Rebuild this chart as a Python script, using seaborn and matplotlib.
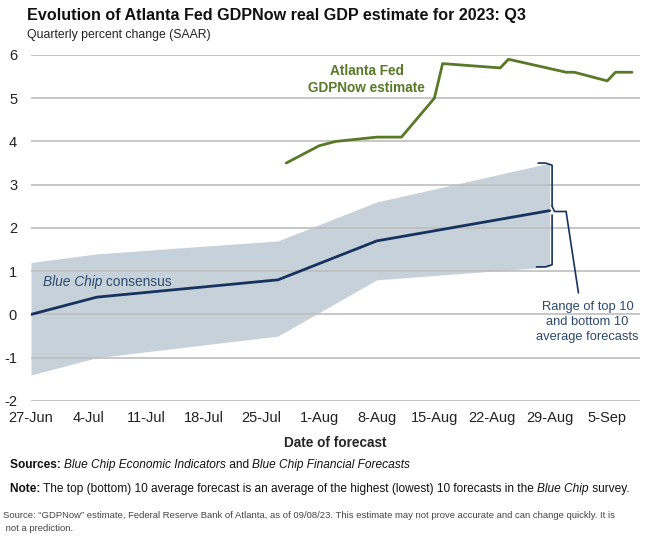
import numpy as np
import pandas as pd
import matplotlib
matplotlib.use("Agg")
import matplotlib.pyplot as plt
import matplotlib.dates as mdates
import seaborn as sns

# ================================
# Data
# ================================
gdpnow_dates = ["2023-07-28", "2023-08-01", "2023-08-03", "2023-08-08", "2023-08-11",
                "2023-08-15", "2023-08-16", "2023-08-23", "2023-08-24", "2023-08-31",
                "2023-09-01", "2023-09-05", "2023-09-06", "2023-09-08"]
gdpnow_values = [3.5, 3.9, 4.0, 4.1, 4.1, 5.0, 5.8, 5.7, 5.9, 5.6, 5.6, 5.4, 5.6, 5.6]

bluechip_dates = ["2023-06-27", "2023-07-05", "2023-07-27", "2023-08-08", "2023-08-29"]
bluechip_consensus = [0.0, 0.4, 0.8, 1.7, 2.4]
bluechip_top10 = [1.2, 1.4, 1.7, 2.6, 3.5]
bluechip_bottom10 = [-1.4, -1.0, -0.5, 0.8, 1.1]

xtick_dates = ["2023-06-27", "2023-07-04", "2023-07-11", "2023-07-18", "2023-07-25",
               "2023-08-01", "2023-08-08", "2023-08-15", "2023-08-22", "2023-08-29",
               "2023-09-05"]
yticks = [-2, -1, 0, 1, 2, 3, 4, 5, 6]

gdp = pd.DataFrame({"date": pd.to_datetime(gdpnow_dates), "value": gdpnow_values})
bc = pd.DataFrame({"date": pd.to_datetime(bluechip_dates),
                   "consensus": bluechip_consensus,
                   "top": bluechip_top10,
                   "bottom": bluechip_bottom10})

# ================================
# Style
# ================================
sns.set_style("white")
plt.rcParams["font.family"] = ["Liberation Sans", "DejaVu Sans"]
plt.rcParams["axes.unicode_minus"] = False

GREEN = "#587a26"
NAVY = "#17325f"
LABEL_BLUE = "#2c4a70"
BAND = "#c6d1da"
GRID = "#bdbdbd"

fig = plt.figure(figsize=(6.46, 5.44), dpi=100)
ax = fig.add_axes([0.048, 0.263, 0.943, 0.636])


def chain(x, y, parts, transform=None, **common):
    """write several text pieces one after another on one line"""
    renderer = fig.canvas.get_renderer()
    tr = transform if transform is not None else fig.transFigure
    px, py = tr.transform((x, y))
    for txt, kw in parts:
        t = fig.text(px / fig.bbox.width, py / fig.bbox.height, txt, **common, **kw)
        px = t.get_window_extent(renderer).x1


# band of top/bottom 10 averages
ax.fill_between(bc["date"], bc["bottom"], bc["top"], color=BAND, lw=0, zorder=1)

# grid lines on top of the band
for yv in yticks:
    ax.axhline(yv, color=GRID, lw=1.2, zorder=1.5)

sns.lineplot(data=bc, x="date", y="consensus", color=NAVY, lw=2, ax=ax, zorder=3)
sns.lineplot(data=gdp, x="date", y="value", color=GREEN, lw=2, ax=ax, zorder=3)

# axes
ax.set_xlim(pd.Timestamp("2023-06-27"), pd.Timestamp("2023-09-09"))
ax.set_ylim(-2, 6)
ax.set_yticks(yticks)
ax.set_xticks(pd.to_datetime(xtick_dates))
ax.xaxis.set_major_formatter(mdates.DateFormatter("%-d-%b"))
for s in ax.spines.values():
    s.set_visible(False)
ax.tick_params(axis="y", length=0, pad=10, labelsize=10.5, colors="#222222")
ax.tick_params(axis="x", length=5, width=1, color=GRID, direction="in",
               pad=7, labelsize=10.5, colors="#222222")
ax.set_xlabel("Date of forecast", fontsize=9.8, fontweight="bold", labelpad=8)
ax.set_ylabel("")
ax.grid(False)

# annotations
ax.text(pd.Timestamp("2023-08-06") + pd.Timedelta(hours=19), 5.43,
        "Atlanta Fed\nGDPNow estimate", color=GREEN,
        fontsize=9.8, fontweight="bold", ha="center", va="center", linespacing=1.3)
fig.canvas.draw()
chain(mdates.date2num(pd.Timestamp("2023-06-28")) + 0.45, 0.74,
      [("Blue Chip", dict(style="italic")), (" consensus", {})],
      transform=ax.transData, color=LABEL_BLUE, fontsize=9.9, va="center")

# brace for range
end = bc["date"].iloc[-1]
d = lambda days: end + pd.Timedelta(days=days)
top, bot, mid = bc["top"].iloc[-1], bc["bottom"].iloc[-1], bc["consensus"].iloc[-1]
ax.plot([d(-1.4), d(-0.5), d(0.3), d(0.3)], [top, top, top - 0.05, mid + 0.1],
        color=NAVY, lw=1.2, zorder=4)
ax.plot([d(0.3), d(0.6), d(2.0)], [mid + 0.1, mid - 0.02, mid - 0.02],
        color=NAVY, lw=1.2, zorder=4)
ax.plot([d(0.3), d(0.3), d(-0.5), d(-1.6)], [mid - 0.1, bot + 0.05, bot, bot],
        color=NAVY, lw=1.2, zorder=4)
ax.plot([d(2.0), d(3.5)], [mid - 0.02, 0.5], color=NAVY, lw=1.2, zorder=4)
ax.text(d(4.6), -0.18, "Range of top 10\nand bottom 10\naverage forecasts",
        color=LABEL_BLUE, fontsize=9.3, ha="center", va="center", linespacing=1.35)

# titles
fig.text(0.042, 0.972, "Evolution of Atlanta Fed GDPNow real GDP estimate for 2023: Q3",
         fontsize=11.6, fontweight="bold", ha="left", va="center", color="#111111")
fig.text(0.042, 0.936, "Quarterly percent change (SAAR)", fontsize=8.8,
         ha="left", va="center", color="#222222")

# footnotes
chain(0.015, 0.145, [("Sources: ", dict(fontweight="bold")),
                     ("Blue Chip Economic Indicators", dict(style="italic")),
                     (" and ", {}),
                     ("Blue Chip Financial Forecasts", dict(style="italic"))],
      fontsize=8.6, va="center", color="#111111")
chain(0.015, 0.101, [("Note: ", dict(fontweight="bold")),
                     ("The top (bottom) 10 average forecast is an average of the highest "
                      "(lowest) 10 forecasts in the ", {}),
                     ("Blue Chip", dict(style="italic")),
                     (" survey.", {})],
      fontsize=8.6, va="center", color="#111111")
fig.text(0.004, 0.04, "Source: \u201cGDPNow\u201d estimate, Federal Reserve Bank of Atlanta, as of 09/08/23. "
         "This estimate may not prove accurate and can change quickly. It is\n not a prediction.",
         fontsize=6.8, va="center", color="#444444", linespacing=1.6)

fig.savefig("out.png", dpi=100)
